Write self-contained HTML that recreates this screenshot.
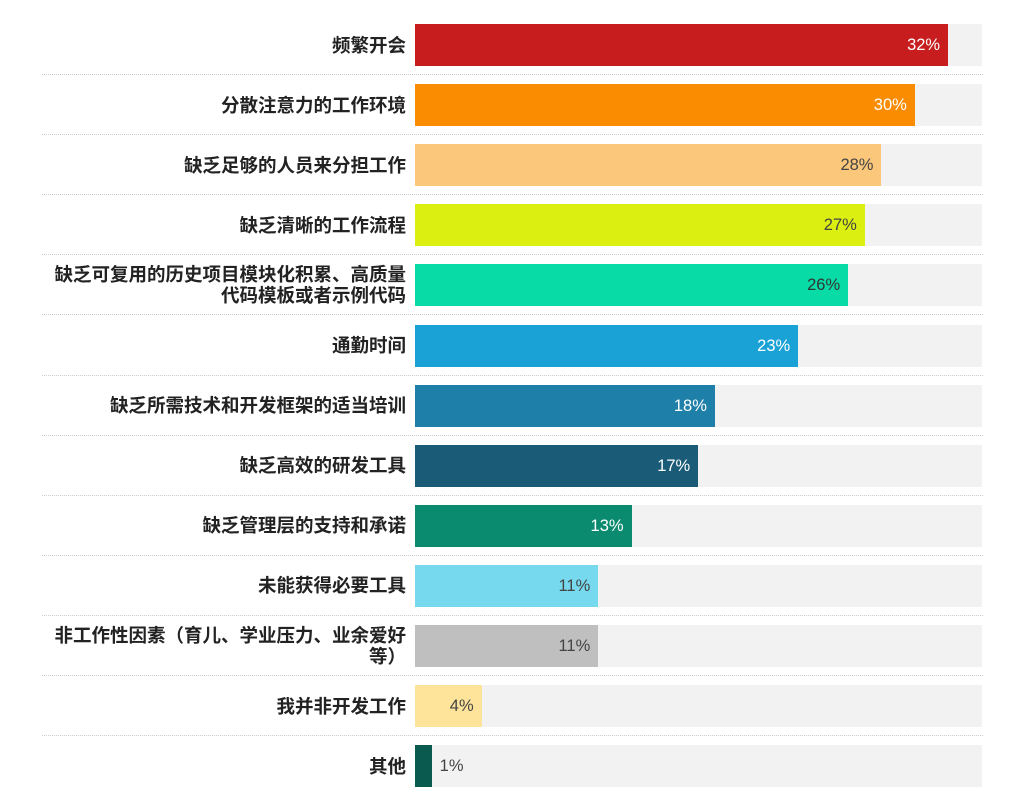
<!DOCTYPE html>
<html><head><meta charset="utf-8"><style>
body{margin:0;width:1024px;height:809px;background:#fff;position:relative;overflow:hidden;font-family:"Liberation Sans","Noto Sans CJK SC",sans-serif}
.lab{position:absolute;right:618px;width:380px;text-align:right;font-size:18.5px;font-weight:bold;color:#222;line-height:21px;display:flex;align-items:center;justify-content:flex-end}
.tr{position:absolute;left:415px;width:567px;height:42px;background:#f2f2f2}
.bar{position:absolute;left:415px;height:42px}
.v{position:absolute;font-size:16.5px;line-height:42px;text-align:right}
.sep{position:absolute;left:42px;width:941px;border-top:1px dotted #ccc}
</style></head><body>
<div id="c"></div>
<script>
const d=[["频繁开会",32,"#c81d1e","#fff"],["分散注意力的工作环境",30,"#f98c00","#fff"],["缺乏足够的人员来分担工作",28,"#fbc77a","#444"],["缺乏清晰的工作流程",27,"#dbef11","#444"],["缺乏可复用的历史项目模块化积累、高质量<br>代码模板或者示例代码",26,"#08dba6","#333"],["通勤时间",23,"#1aa2d6","#fff"],["缺乏所需技术和开发框架的适当培训",18,"#1e7fa8","#fff"],["缺乏高效的研发工具",17,"#1a5b78","#fff"],["缺乏管理层的支持和承诺",13,"#0a8a6e","#fff"],["未能获得必要工具",11,"#76d9ee","#444"],["非工作性因素（育儿、学业压力、业余爱好<br>等）",11,"#bfbfbf","#444"],["我并非开发工作",4,"#fde49a","#444"],["其他",1,"#0b5a4f","#444"]];
let h="";
d.forEach((r,i)=>{const t=24+60.1*i;const w=r[1]*16.66;
h+=`<div class="lab" style="top:${t}px;height:42px">${r[0]}</div><div class="tr" style="top:${t}px"></div><div class="bar" style="top:${t}px;width:${w}px;background:${r[2]}"></div>`;
if(r[1]>2)h+=`<div class="v" style="top:${t}px;left:${415+w-60}px;width:52px;color:${r[3]}">${r[1]}%</div>`;
else h+=`<div class="v" style="top:${t}px;left:${415+w+8}px;color:${r[3]}">${r[1]}%</div>`;
if(i<12)h+=`<div class="sep" style="top:${t+50}px"></div>`;});
document.getElementById("c").innerHTML=h;
</script>
</body></html>
